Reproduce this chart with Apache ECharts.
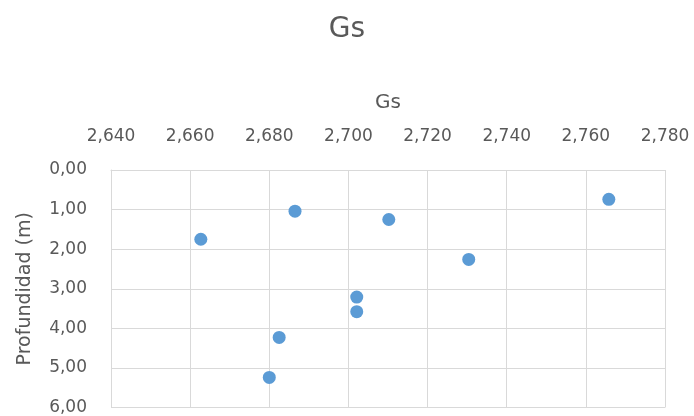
<!DOCTYPE html>
<html>
<head>
<meta charset="utf-8">
<script src="https://cdn.jsdelivr.net/npm/echarts@6/dist/echarts.min.js"></script>
<style>
  html, body { margin: 0; padding: 0; background: #ffffff; }
  #chart { width: 694px; height: 416px; }
</style>
</head>
<body>
<div id="chart"></div>
<script>
// Specific gravity (Gs) of each sample and the depth it was taken at
const gsValues    = [2.6627, 2.6865, 2.7102, 2.7021, 2.7021, 2.6825, 2.6800, 2.7304, 2.7658];
const depthValues = [1.75,   1.04,   1.25,   3.21,   3.58,   4.23,   5.24,   2.26,   0.74];

// Axis ranges and tick steps
const gsMin = 2.64, gsMax = 2.78, gsStep = 0.02;
const depthMin = 0, depthMax = 6, depthStep = 1;

const points = gsValues.map((g, i) => [g, depthValues[i]]);

const textColor = '#595959';
const gridColor = '#d9d9d9';
const fontFamily = '"DejaVu Sans", sans-serif';

const comma = (v, d) => v.toFixed(d).replace('.', ',');

const chart = echarts.init(document.getElementById('chart'), null, { renderer: 'canvas' });
chart.setOption({
  animation: false,
  backgroundColor: '#ffffff',
  title: {
    text: 'Gs',
    left: 'center',
    top: 11,
    textStyle: { color: textColor, fontSize: 28, fontWeight: 'normal', fontFamily: fontFamily }
  },
  grid: { left: 111, right: 29, top: 170, bottom: 8 },
  xAxis: {
    type: 'value',
    position: 'top',
    min: gsMin,
    max: gsMax,
    interval: gsStep,
    name: 'Gs',
    nameLocation: 'middle',
    nameGap: 57,
    nameTextStyle: { color: textColor, fontSize: 20, fontFamily: fontFamily },
    axisLine: { show: true, lineStyle: { color: gridColor, width: 1 } },
    axisTick: { show: false },
    axisLabel: {
      color: textColor, fontSize: 17, fontFamily: fontFamily, margin: 25,
      formatter: v => comma(v, 3)
    },
    splitLine: { show: true, lineStyle: { color: gridColor, width: 1 } }
  },
  yAxis: {
    type: 'value',
    inverse: true,
    min: depthMin,
    max: depthMax,
    interval: depthStep,
    name: 'Profundidad (m)',
    nameLocation: 'middle',
    nameGap: 76,
    nameTextStyle: { color: textColor, fontSize: 19, fontFamily: fontFamily },
    axisLine: { show: true, lineStyle: { color: gridColor, width: 1 } },
    axisTick: { show: false },
    axisLabel: {
      color: textColor, fontSize: 17, fontFamily: fontFamily, margin: 24,
      formatter: v => comma(v, 2)
    },
    splitLine: { show: true, lineStyle: { color: gridColor, width: 1 } }
  },
  series: [{
    type: 'scatter',
    data: points,
    symbol: 'circle',
    symbolSize: 13,
    itemStyle: { color: '#5B9BD5', opacity: 1 }
  }]
});
</script>
</body>
</html>
